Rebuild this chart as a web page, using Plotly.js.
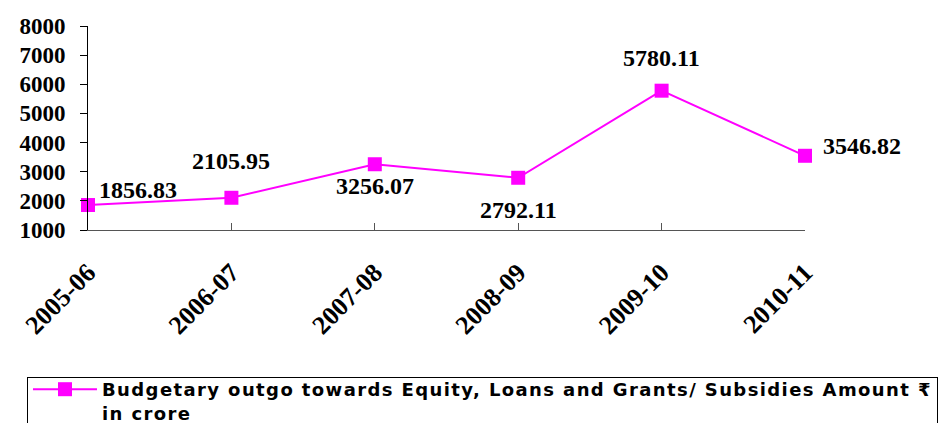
<!DOCTYPE html>
<html>
<head>
<meta charset="utf-8">
<script src="https://cdn.plot.ly/plotly-3.0.1.min.js"></script>
<style>
html,body{margin:0;padding:0;background:#fff;}
#chart{width:941px;height:423px;}
.legendtext{letter-spacing:1.4px;}
</style>
</head>
<body>
<div id="chart"></div>
<script>
const years = ["2005-06", "2006-07", "2007-08", "2008-09", "2009-10", "2010-11"];
const amounts = [1856.83, 2105.95, 3256.07, 2792.11, 5780.11, 3546.82];
const yTicks = [1000, 2000, 3000, 4000, 5000, 6000, 7000, 8000];
const seriesName = "Budgetary outgo towards Equity, Loans and Grants/ Subsidies Amount ₹<br>in crore";

// label offsets (pixels) for value labels
const labelShiftX = [50, 0, 0, 0, 0, 57];
const labelShiftY = [15, 37, -22, -32, 33, 10];

const serif = "'Liberation Serif', 'Times New Roman', serif";

const trace = {
  x: years,
  y: amounts,
  type: "scatter",
  mode: "lines+markers",
  name: seriesName,
  line: {color: "#FF00FF", width: 2},
  marker: {symbol: "square", size: 14, color: "#FF00FF"},
  cliponaxis: false
};

const annotations = years.map((c, i) => ({
  x: c, y: amounts[i], xref: "x", yref: "y",
  text: amounts[i].toFixed(2),
  showarrow: false,
  xshift: labelShiftX[i], yshift: labelShiftY[i],
  font: {family: serif, size: 24, color: "#000", weight: "bold"}
}));

const layout = {
  width: 941, height: 423,
  margin: {l: 88, r: 136, t: 26, b: 193, autoexpand: false},
  paper_bgcolor: "#fff", plot_bgcolor: "#fff",
  showlegend: true,
  legend: {
    x: -0.0851, y: -0.7206, xanchor: "left", yanchor: "top",
    bordercolor: "#000", borderwidth: 1,
    valign: "top",
    font: {family: "'DejaVu Sans', sans-serif", size: 18, color: "#000", weight: "bold"},
    itemwidth: 64
  },
  xaxis: {
    type: "category",
    range: [0, 5],
    automargin: false,
    showgrid: false, zeroline: false,
    showline: true, linecolor: "#555", linewidth: 1,
    ticks: "inside", ticklen: 7, tickcolor: "#555",
    tickangle: -45,
    ticklabelstandoff: 16,
    tickfont: {family: serif, size: 26, color: "#000", weight: "bold"}
  },
  yaxis: {
    range: [1000, 8000],
    automargin: false,
    tickvals: yTicks,
    showgrid: false, zeroline: false,
    showline: true, linecolor: "#000", linewidth: 1,
    ticks: "outside", ticklen: 7, tickcolor: "#000",
    ticklabelstandoff: 10,
    tickfont: {family: serif, size: 23, color: "#000", weight: "bold"}
  },
  annotations: annotations
};

Plotly.newPlot("chart", [trace], layout, {displayModeBar: false, staticPlot: true}).then(gd => {
  // nudge legend entry up so both text lines fit inside the visible area
  gd.querySelectorAll(".legend .traces").forEach(t => {
    const tr = t.getAttribute("transform") || "";
    const m = /translate\(\s*([-\d.e]+)[ ,]+([-\d.e]+)\s*\)/.exec(tr);
    if (m) t.setAttribute("transform", "translate(" + m[1] + "," + (parseFloat(m[2]) - 7) + ")");
  });
});
</script>
</body>
</html>
